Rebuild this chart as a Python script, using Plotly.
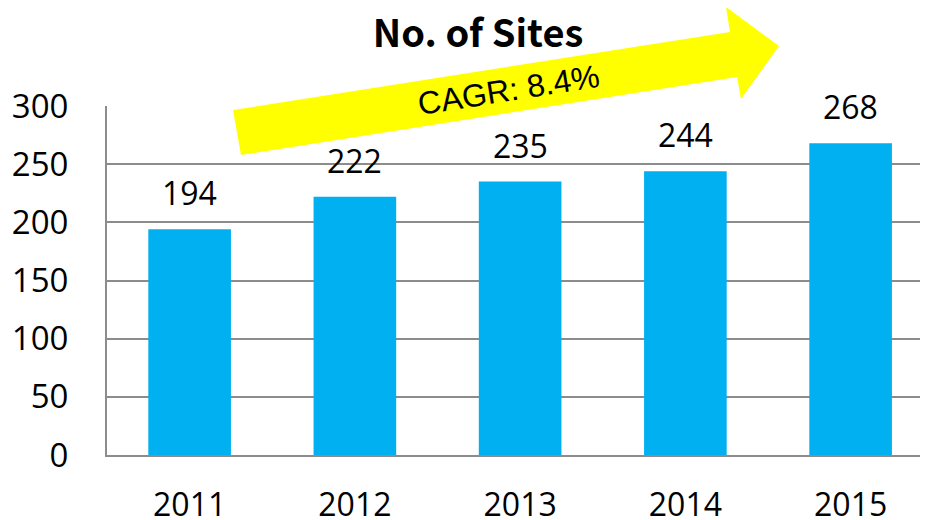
import plotly.graph_objects as go

years = ["2011", "2012", "2013", "2014", "2015"]
sites = [194, 222, 235, 244, 268]
y_ticks = [0, 50, 100, 150, 200, 250, 300]
title_text = "No. of Sites"
cagr_text = "CAGR: 8.4%"

# page has an 8px body margin; figure is sized to fit the window
OFF = 8
W, H = 928 - OFF, 520 - OFF
# plot area in page pixels
P_L, P_R, P_T, P_B = 107, 928, 106, 455
ML, MR, MT, MB = P_L - OFF, 928 - P_R, P_T - OFF, 520 - P_B
PW, PH = P_R - P_L, P_B - P_T

def px(x, y):
    return (x - P_L) / PW, (P_B - y) / PH

fig = go.Figure()
fig.add_trace(go.Bar(
    x=list(range(len(years))), y=sites,
    marker=dict(color="#00B0F0", line=dict(width=0)),
    hoverinfo="skip",
))

for i, v in enumerate(sites):
    fig.add_annotation(
        x=i, y=v, xref="x", yref="y", text=str(v), showarrow=False,
        yanchor="bottom", yshift=13,
        font=dict(family="Open Sans", size=32, color="#000000"),
    )

# decorative CAGR arrow (page-pixel outline converted to paper coords)
arrow_px = [(233, 110), (730, 32), (726, 7), (779, 46), (741, 99), (737, 77), (241, 155)]
pts = [px(a, b) for a, b in arrow_px]
path = "M " + " L ".join(f"{a:.4f},{b:.4f}" for a, b in pts) + " Z"
fig.add_shape(type="path", path=path, xref="paper", yref="paper",
              fillcolor="#FFFF00", line=dict(width=0), layer="above")

cx, cy = px(508, 90)
fig.add_annotation(
    x=cx, y=cy, xref="paper", yref="paper", text=cagr_text, showarrow=False,
    textangle=-9, xanchor="center", yanchor="middle",
    font=dict(family="Liberation Sans", size=32, color="#000000"),
)

fig.update_layout(
    width=W, height=H,
    margin=dict(l=ML, r=MR, t=MT, b=MB, autoexpand=False),
    paper_bgcolor="white", plot_bgcolor="white",
    showlegend=False, bargap=0.5,
    title=dict(text=f"<b>{title_text}</b>", x=(478 - OFF) / W, xanchor="center",
               y=1 - (34 - OFF) / H, yanchor="middle", automargin=False,
               font=dict(family="Noto Sans CJK JP", size=38, color="#000000")),
    xaxis=dict(
        range=[-0.5, -0.5 + PW / 165.25], tickmode="array",
        tickvals=list(range(len(years))), ticktext=years,
        showgrid=False, zeroline=False, showline=True, automargin=False,
        linecolor="#8c8c8c", linewidth=2, ticks="",
        ticklabelstandoff=21,
        tickfont=dict(family="Open Sans", size=32, color="#000000"),
    ),
    yaxis=dict(
        range=[0, 300], tickmode="array", tickvals=y_ticks,
        showgrid=True, gridcolor="#8c8c8c", gridwidth=2, automargin=False,
        zeroline=False, showline=True, linecolor="#8c8c8c", linewidth=2,
        ticks="", ticklabelstandoff=30,
        tickfont=dict(family="Open Sans", size=33, color="#000000"),
    ),
)

fig.write_html("out.html")
